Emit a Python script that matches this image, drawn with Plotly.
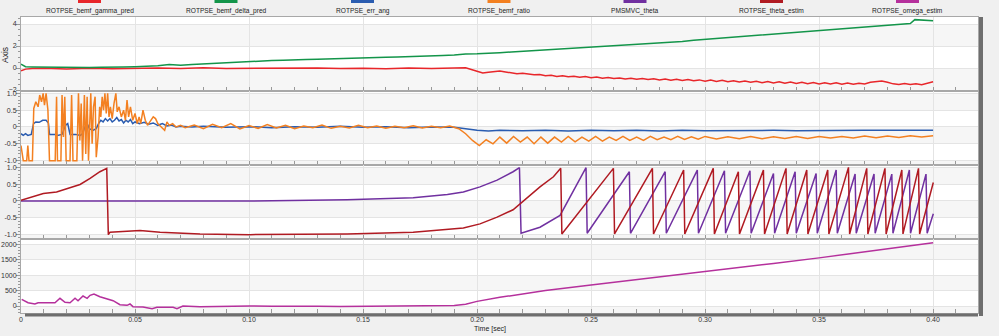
import plotly.graph_objects as go
from plotly.subplots import make_subplots

# ---------------- data ----------------
series_names = ["ROTPSE_bemf_gamma_pred", "ROTPSE_bemf_delta_pred", "ROTPSE_err_ang",
                "ROTPSE_bemf_ratio", "PMSMVC_theta", "ROTPSE_theta_estim", "ROTPSE_omega_estim"]
series_colors = ["#e8262a", "#13954a", "#2a5cb0", "#f38021", "#7030a0", "#b01a22", "#b5309c"]

# panel 1
gamma_t = [0.0, 0.002, 0.005, 0.01, 0.02, 0.03, 0.04, 0.05, 0.06, 0.07, 0.08, 0.09, 0.10, 0.11, 0.12,
           0.13, 0.14, 0.15, 0.16, 0.17, 0.18, 0.19, 0.195,
           0.2000, 0.2025, 0.2050, 0.2075, 0.2100, 0.2125, 0.2150, 0.2175, 0.2200, 0.2225, 0.2250, 0.2275,
           0.2300, 0.2325, 0.2350, 0.2375, 0.2400, 0.2425, 0.2450, 0.2475, 0.2500, 0.2525, 0.2550, 0.2575,
           0.2600, 0.2625, 0.2650, 0.2675, 0.2700, 0.2725, 0.2750, 0.2775, 0.2800, 0.2825, 0.2850, 0.2875,
           0.2900, 0.2925, 0.2950, 0.2975, 0.3000, 0.3025, 0.3050, 0.3075, 0.3100, 0.3125, 0.3150, 0.3175,
           0.3200, 0.3225, 0.3250, 0.3275, 0.3300, 0.3325, 0.3350, 0.3375, 0.3400, 0.3425, 0.3450, 0.3475,
           0.3500, 0.3525, 0.3550, 0.3575, 0.3600, 0.3625, 0.3650, 0.3675, 0.3700, 0.3725, 0.3750, 0.3775,
           0.3800, 0.3825, 0.3850, 0.3875, 0.3900, 0.3925, 0.3950, 0.3975, 0.4000]
gamma_v = [-0.25, -0.10, -0.05, -0.02, -0.08, -0.02, -0.06, -0.02, 0.0, -0.05, 0.02, -0.04, -0.02, -0.06, -0.02,
           0.0, -0.05, -0.02, -0.06, 0.0, -0.04, -0.02, 0.02,
           -0.30, -0.45, -0.38, -0.32, -0.28, -0.36, -0.44, -0.52, -0.48, -0.58, -0.62, -0.58,
           -0.70, -0.66, -0.76, -0.70, -0.80, -0.74, -0.84, -0.78, -0.88, -0.82, -0.92, -0.86,
           -0.96, -0.90, -0.99, -0.92, -1.02, -0.95, -1.05, -0.98, -1.08, -1.00, -1.12, -1.02,
           -1.14, -1.05, -1.16, -1.08, -1.20, -1.10, -1.22, -1.12, -1.25, -1.15, -1.28, -1.18,
           -1.30, -1.20, -1.33, -1.22, -1.36, -1.25, -1.38, -1.27, -1.40, -1.30, -1.42, -1.32,
           -1.45, -1.34, -1.46, -1.35, -1.48, -1.36, -1.48, -1.38, -1.46, -1.30, -1.22, -1.18,
           -1.30, -1.44, -1.50, -1.42, -1.50, -1.44, -1.52, -1.40, -1.25]

delta_t = [0.0, 0.002, 0.005, 0.01, 0.015, 0.02, 0.025, 0.03, 0.035, 0.04, 0.045, 0.05, 0.055, 0.06, 0.065,
           0.07, 0.075, 0.08, 0.085, 0.09, 0.095, 0.10, 0.105, 0.11, 0.115, 0.12, 0.125, 0.13, 0.135,
           0.14, 0.145, 0.15, 0.155, 0.16, 0.165, 0.17, 0.175, 0.18, 0.185, 0.19, 0.195, 0.20, 0.205,
           0.21, 0.215, 0.22, 0.225, 0.23, 0.235, 0.24, 0.245, 0.25, 0.255, 0.26, 0.265, 0.27, 0.275,
           0.28, 0.285, 0.29, 0.295, 0.30, 0.305, 0.31, 0.315, 0.32, 0.325, 0.33, 0.335, 0.34, 0.345,
           0.35, 0.355, 0.36, 0.365, 0.37, 0.375, 0.38, 0.385, 0.39, 0.392, 0.395, 0.40]
delta_v = [0.35, 0.12, 0.10, 0.08, 0.05, 0.03, 0.06, 0.04, 0.07, 0.06, 0.10, 0.12, 0.15, 0.20, 0.32,
           0.25, 0.32, 0.38, 0.42, 0.50, 0.52, 0.62, 0.62, 0.68, 0.70, 0.76, 0.78, 0.80, 0.84,
           0.86, 0.90, 0.92, 0.94, 0.98, 1.00, 1.02, 1.08, 1.08, 1.14, 1.18, 1.28, 1.30, 1.38,
           1.40, 1.46, 1.52, 1.60, 1.66, 1.72, 1.78, 1.84, 1.88, 1.96, 2.00, 2.08, 2.14, 2.20,
           2.28, 2.36, 2.42, 2.52, 2.60, 2.66, 2.74, 2.80, 2.88, 2.96, 3.04, 3.14, 3.22, 3.32,
           3.38, 3.46, 3.54, 3.62, 3.70, 3.80, 3.86, 3.98, 4.05, 4.40, 4.34, 4.30]

# panel 2
err_t = [0.0, 0.001, 0.002, 0.003, 0.0045, 0.0055, 0.0065, 0.008, 0.0095, 0.011, 0.012, 0.0125, 0.015,
         0.016, 0.018, 0.0195, 0.0205, 0.0215, 0.024, 0.026, 0.027, 0.028, 0.029, 0.030, 0.0315, 0.033,
         0.034, 0.035, 0.036, 0.037, 0.038, 0.039, 0.040, 0.041, 0.042, 0.043, 0.044, 0.045, 0.046,
         0.047, 0.048, 0.049, 0.050, 0.052, 0.054, 0.056, 0.058, 0.060, 0.062, 0.064, 0.066, 0.068,
         0.070, 0.075, 0.08, 0.09, 0.10, 0.11, 0.12, 0.13, 0.14, 0.15, 0.16, 0.17, 0.18, 0.19, 0.195,
         0.20, 0.205, 0.21, 0.22, 0.23, 0.24, 0.25, 0.26, 0.27, 0.28, 0.29, 0.30, 0.31, 0.32, 0.33,
         0.34, 0.35, 0.36, 0.37, 0.38, 0.39, 0.40]
err_v = [-0.20, -0.25, -0.20, -0.25, -0.22, 0.10, 0.15, 0.14, 0.20, 0.20, 0.12, -0.22, -0.22,
         -0.25, -0.22, 0.05, 0.10, -0.22, -0.22, -0.25, -0.20, 0.0, 0.10, -0.05, -0.10, -0.05,
         0.10, 0.20, 0.15, 0.25, 0.18, 0.25, 0.15, 0.20, 0.28, 0.18, 0.22, 0.12, 0.20,
         0.15, 0.22, 0.10, 0.15, 0.10, 0.14, 0.08, 0.12, 0.05, 0.10, 0.03, 0.06, 0.0,
         0.02, 0.0, 0.02, -0.01, 0.01, -0.02, 0.01, -0.01, 0.02, -0.01, 0.01, -0.02, 0.0, -0.01, -0.05,
         -0.10, -0.12, -0.10, -0.11, -0.10, -0.12, -0.10, -0.11, -0.10, -0.12, -0.10, -0.11, -0.10, -0.11, -0.10,
         -0.11, -0.10, -0.11, -0.10, -0.10, -0.11, -0.10]

ratio_t = [0.0, 0.001, 0.0025, 0.003, 0.0035, 0.005, 0.0056, 0.0065, 0.0075, 0.0082, 0.009, 0.0097,
           0.0103, 0.011, 0.0118, 0.0125, 0.015, 0.0156, 0.016, 0.0175, 0.018, 0.0186, 0.0192, 0.0198,
           0.0215, 0.0222, 0.0228, 0.0245, 0.0252, 0.0258, 0.0264, 0.027, 0.0278, 0.0284, 0.029, 0.0296,
           0.0306, 0.0312, 0.0318, 0.0325, 0.033, 0.0338, 0.0345, 0.035, 0.0356, 0.0362, 0.0368, 0.0374,
           0.038, 0.0386, 0.0392, 0.040, 0.0408, 0.0416, 0.0422, 0.043, 0.044, 0.045, 0.0458, 0.0465,
           0.0472, 0.048, 0.049, 0.050, 0.051, 0.0518, 0.0525, 0.0535, 0.0545, 0.0555, 0.0565, 0.058,
           0.059, 0.060, 0.0615, 0.063, 0.064, 0.065, 0.0665, 0.068, 0.070, 0.072,
           0.076, 0.080, 0.084, 0.088, 0.092, 0.096, 0.100, 0.104, 0.108, 0.112, 0.116, 0.120, 0.124,
           0.128, 0.132, 0.136, 0.140, 0.144, 0.148, 0.152, 0.156, 0.160, 0.164, 0.168, 0.172, 0.176,
           0.180, 0.184, 0.188, 0.192, 0.195, 0.198, 0.201, 0.204, 0.207, 0.210, 0.213, 0.216, 0.219,
           0.222, 0.225, 0.228, 0.231, 0.234, 0.237, 0.240, 0.243, 0.246, 0.249, 0.252, 0.255, 0.258,
           0.261, 0.264, 0.267, 0.270, 0.273, 0.276, 0.279, 0.282, 0.285, 0.288, 0.291, 0.294, 0.297,
           0.300, 0.305, 0.310, 0.315, 0.320, 0.325, 0.330, 0.335, 0.340, 0.345, 0.350, 0.355, 0.360,
           0.365, 0.370, 0.375, 0.380, 0.385, 0.390, 0.395, 0.400]
ratio_v = [-0.55, -1.0, -1.0, -0.55, -1.0, -1.0, 0.55, 0.75, 0.60, 0.95, 0.75, 1.0,
           0.65, 1.0, 0.50, -1.0, -1.0, 0.90, -1.0, -1.0, 0.95, -0.30, 0.90, -1.0,
           -1.0, 0.95, -1.0, -1.0, 1.0, -0.40, 0.70, -1.0, 0.95, -0.80, 0.90, -1.0,
           1.0, -0.50, 0.60, 0.90, -0.90, -0.30, 0.60, 0.30, 0.90, 0.50, 1.0, 0.40,
           1.0, 0.30, 0.60, 0.25, 0.70, 1.0, 0.45, 0.60, 0.30, 0.50, 0.20, 0.80,
           0.30, 0.60, 0.20, 0.40, 0.10, 0.30, 0.10, 0.50, 0.20, 0.05, 0.15, 0.30,
           0.25, 0.10, 0.0, -0.10, 0.15, 0.05, 0.10, 0.0, 0.05, -0.02,
           0.06, -0.05, 0.08, -0.02, 0.10, -0.06, 0.04, -0.04, 0.07, -0.03, 0.05, -0.05, 0.03,
           -0.02, 0.06, -0.04, 0.02, -0.03, 0.05, -0.02, 0.03, -0.04, 0.02, -0.02, 0.04, -0.03,
           0.02, -0.02, 0.03, -0.05, -0.20, -0.40, -0.55, -0.38, -0.50, -0.30, -0.48, -0.28, -0.45,
           -0.30, -0.50, -0.30, -0.48, -0.30, -0.45, -0.28, -0.44, -0.30, -0.42, -0.28, -0.42, -0.30,
           -0.40, -0.28, -0.40, -0.30, -0.40, -0.28, -0.38, -0.30, -0.38, -0.28, -0.37, -0.29, -0.36,
           -0.28, -0.36, -0.29, -0.35, -0.28, -0.35, -0.29, -0.34, -0.28, -0.34, -0.28, -0.33, -0.28,
           -0.33, -0.27, -0.32, -0.27, -0.31, -0.26, -0.30, -0.26]

# panel 3
theta_t = [0.0, 0.10, 0.143, 0.172, 0.187, 0.194, 0.2013, 0.2088, 0.2158, 0.2186, 0.2193, 0.2276, 0.2364,
           0.2478, 0.2483, 0.2668, 0.2673, 0.2825, 0.2830, 0.2966, 0.2971, 0.3085, 0.3090, 0.3197, 0.3202,
           0.3300, 0.3305, 0.3395, 0.3400, 0.3487, 0.3492, 0.3575, 0.3580, 0.3658, 0.3663, 0.3741, 0.3746,
           0.3819, 0.3824, 0.3896, 0.3901, 0.3969, 0.3974, 0.4001]
theta_v = [0.0, 0.0, 0.04, 0.10, 0.19, 0.27, 0.42, 0.62, 0.87, 0.99, -0.96, -0.78, -0.43,
           0.99, -0.96, 0.87, -0.96, 0.87, -0.96, 0.92, -0.96, 0.90, -0.96, 0.90, -0.96,
           0.82, -0.96, 0.87, -0.96, 0.82, -0.96, 0.92, -0.96, 0.80, -0.96, 0.80, -0.96,
           0.80, -0.96, 0.92, -0.96, 0.80, -0.96, -0.38]

estim_t = [0.0, 0.0098, 0.0156, 0.0215, 0.0259, 0.0303, 0.0346, 0.0376, 0.0383, 0.039, 0.0434, 0.0522,
           0.061, 0.0785, 0.1004, 0.122, 0.143, 0.172, 0.194, 0.2013, 0.2088, 0.2158, 0.2193, 0.2276,
           0.2335, 0.2367, 0.2372, 0.2598, 0.2603, 0.2769, 0.2774, 0.2906, 0.2911, 0.3036, 0.3041,
           0.3146, 0.3151, 0.3256, 0.3261, 0.3355, 0.3360, 0.3446, 0.3451, 0.3538, 0.3543, 0.3629,
           0.3634, 0.3709, 0.3714, 0.3789, 0.3794, 0.3863, 0.3868, 0.3936, 0.3941, 0.4001]
estim_v = [0.02, 0.22, 0.27, 0.40, 0.49, 0.67, 0.87, 0.97, -1.0, -0.93, -0.91, -0.88,
           -0.93, -0.98, -1.0, -0.99, -0.98, -0.93, -0.80, -0.68, -0.48, -0.26, -0.05, 0.42,
           0.72, 0.97, -0.98, 0.97, -0.98, 0.97, -0.98, 0.92, -0.98, 0.97, -0.98,
           0.87, -0.98, 0.92, -0.98, 0.97, -0.98, 0.92, -0.98, 0.92, -0.98, 1.0,
           -0.98, 0.97, -0.98, 0.97, -0.98, 0.92, -0.98, 0.97, -0.98, 0.55]

# panel 4
omega_t = [0.0003, 0.0031, 0.0061, 0.0075, 0.0149, 0.0171, 0.0193, 0.0215, 0.0237, 0.025, 0.0272, 0.029,
           0.0303, 0.032, 0.0346, 0.0377, 0.0404, 0.0434, 0.0465, 0.0478, 0.0491, 0.0535, 0.0575, 0.0596,
           0.0667, 0.0684, 0.071, 0.0785, 0.093, 0.1004, 0.11, 0.12, 0.13, 0.14, 0.15, 0.16, 0.17, 0.18,
           0.19, 0.195, 0.20, 0.21, 0.22, 0.23, 0.25, 0.27, 0.30, 0.33, 0.35, 0.37, 0.39, 0.40]
omega_v = [217, 107, 65, 107, 107, 250, 120, 107, 250, 170, 324, 250,
           346, 389, 302, 227, 172, 43, 22, 65, -22, -32, -86, -43,
           -43, -86, 0, -22, 0, 0, -10, -20, -10, -15, -5, -10, 0, 10,
           20, 60, 150, 280, 400, 500, 680, 850, 1120, 1380, 1560, 1750, 1950, 2050]

# ticks
x_tickvals = [0, 0.05, 0.10, 0.15, 0.20, 0.25, 0.30, 0.35, 0.40]
x_ticktext = ["0", "0.05", "0.10", "0.15", "0.20", "0.25", "0.30", "0.35", "0.40"]
y1_ticks = [-2, 0, 2, 4]
y23_tickvals = [-1.0, -0.5, 0, 0.5, 1.0]
y23_ticktext = ["-1.0", "-0.5", "0", "0.5", "1.0"]
y4_ticks = [0, 500, 1000, 1500, 2000]

# ---------------- figure ----------------
fig = make_subplots(rows=4, cols=1, shared_xaxes=True, vertical_spacing=0)

def add(row, t, v, idx):
    fig.add_trace(go.Scatter(x=t, y=v, mode="lines", name=series_names[idx],
                             line=dict(color=series_colors[idx], width=1.5),
                             showlegend=False), row=row, col=1)

add(1, gamma_t, gamma_v, 0)
add(1, delta_t, delta_v, 1)
add(2, err_t, err_v, 2)
add(2, ratio_t, ratio_v, 3)
add(3, theta_t, theta_v, 4)
add(3, estim_t, estim_v, 5)
add(4, omega_t, omega_v, 6)

FONT = "Liberation Sans"
TICKC = "#999999"
GRID = "#e4e4e4"
AXC = "#a8a8a8"
FS = 7
LFS = 6.6

domains = [[0.75, 1.0], [0.5, 0.75], [0.25, 0.5], [0.0, 0.25]]
yranges = [[-2.09, 4.64], [-1.13, 1.07], [-1.13, 1.07], [-227, 2172]]

for i in range(4):
    xa = "xaxis" if i == 0 else f"xaxis{i+1}"
    ya = "yaxis" if i == 0 else f"yaxis{i+1}"
    fig.layout[xa].update(
        range=[0, 0.4197], showgrid=True, gridcolor=GRID, gridwidth=1, automargin=False,
        tickvals=x_tickvals, ticktext=x_ticktext, ticks="inside", ticklen=4, tickcolor=TICKC,
        minor=dict(dtick=0.01, tick0=0, ticks="inside", ticklen=4, tickcolor=TICKC, showgrid=False),
        showline=True, linecolor=AXC, linewidth=1, mirror=True, zeroline=False,
        showticklabels=(i == 3), tickfont=dict(family=FONT, size=FS, color="#333333"),
    )
    fig.layout[ya].update(domain=domains[i], range=yranges[i], showgrid=True, gridcolor=GRID,
                          zeroline=False, showline=True, linecolor=AXC, linewidth=1, mirror=True,
                          ticks="outside", ticklen=4, tickcolor=TICKC, automargin=False,
                          ticklabelstandoff=-2,
                          tickfont=dict(family=FONT, size=FS, color="#333333"))

fig.layout.yaxis.update(tickvals=y1_ticks, minor=dict(dtick=0.5, ticks="outside", ticklen=2, tickcolor=TICKC, showgrid=False))
fig.layout.yaxis2.update(tickvals=y23_tickvals, ticktext=y23_ticktext,
                         minor=dict(dtick=0.1, ticks="outside", ticklen=2, tickcolor=TICKC, showgrid=False))
fig.layout.yaxis3.update(tickvals=y23_tickvals, ticktext=y23_ticktext,
                         minor=dict(dtick=0.1, ticks="outside", ticklen=2, tickcolor=TICKC, showgrid=False))
fig.layout.yaxis4.update(tickvals=y4_ticks, minor=dict(dtick=100, ticks="outside", ticklen=2, tickcolor=TICKC, showgrid=False))

shapes = []
band = "#f6f6f6"
bands = [("y", [(2, 4), (-2.09, 0)]),
         ("y2", [(0.5, 1.0), (-0.5, 0), (-1.13, -1.0)]),
         ("y3", [(0.5, 1.0), (-0.5, 0), (-1.13, -1.0)]),
         ("y4", [(1500, 2000), (500, 1000), (-227, 0)])]
for yref, lst in bands:
    for a, b in lst:
        shapes.append(dict(type="rect", xref="paper", yref=yref, x0=0, x1=1, y0=a, y1=b,
                           fillcolor=band, line=dict(width=0), layer="below"))

# scrollbars (styling)
W, H = 957.0, 296.0
def px_x(p):
    return (p - 21) / W
def px_y(p):
    return (313 - p) / H
shapes.append(dict(type="rect", xref="paper", yref="paper", x0=px_x(979), x1=px_x(983),
                   y0=px_y(316), y1=px_y(17), fillcolor="#6e6e6e", line=dict(width=0)))
shapes.append(dict(type="rect", xref="paper", yref="paper", x0=px_x(25), x1=px_x(978),
                   y0=px_y(316.5), y1=px_y(313.5), fillcolor="#6e6e6e", line=dict(width=0)))

# legend swatches + labels (drawn above the plot)
annotations = []
legend_centers = [89.5, 226, 362.5, 499, 635, 771.5, 907.5]
for name, col, cx in zip(series_names, series_colors, legend_centers):
    shapes.append(dict(type="line", xref="paper", yref="paper", x0=px_x(cx - 11.5), x1=px_x(cx + 11.5),
                       y0=px_y(1.5), y1=px_y(1.5), line=dict(color=col, width=3)))
    annotations.append(dict(text=name, xref="paper", yref="paper", x=px_x(cx), y=px_y(11),
                            xanchor="center", yanchor="middle", showarrow=False,
                            font=dict(family=FONT, size=LFS, color="#222222")))

annotations.append(dict(text="Time [sec]", xref="paper", yref="paper", x=px_x(490), y=px_y(329),
                        xanchor="center", yanchor="middle", showarrow=False,
                        font=dict(family=FONT, size=FS, color="#222222")))
annotations.append(dict(text="Axis", xref="paper", yref="paper", x=px_x(5), y=px_y(55),
                        xanchor="center", yanchor="middle", showarrow=False, textangle=-90,
                        font=dict(family=FONT, size=8.5, color="#222222")))

fig.update_layout(width=999, height=336, margin=dict(l=21, r=21, t=17, b=23, autoexpand=False),
                  paper_bgcolor="#f0f0f0", plot_bgcolor="white",
                  shapes=shapes, annotations=annotations, showlegend=False)

fig.write_html("out.html")
